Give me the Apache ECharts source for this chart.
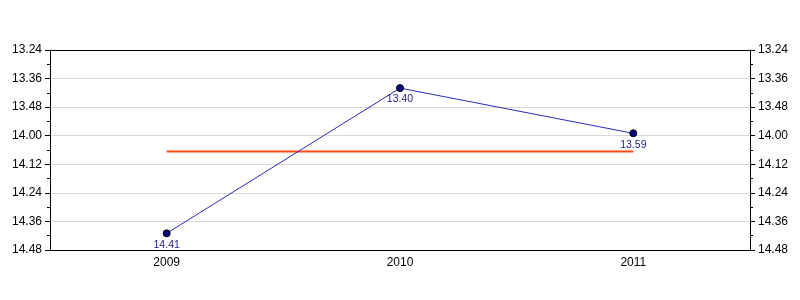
<!DOCTYPE html>
<html><head><meta charset="utf-8">
<script src="https://cdn.jsdelivr.net/npm/echarts@6/dist/echarts.min.js"></script>
<style>html,body{margin:0;padding:0;background:#fff}#c{width:800px;height:300px}</style>
</head><body><div id="c"></div>
<script>
var categories = ['2009', '2010', '2011'];
var timeLabels = ['14.41', '13.40', '13.59'];   // minutes.seconds
var yMinLabel = '13.24', yMaxLabel = '14.48', yStepSeconds = 12;

function toSec(s){ var p = s.split('.'); return parseInt(p[0],10)*60 + parseInt(p[1],10); }
function fmt(v){ v = Math.round(v); var m = Math.floor(v/60), s = v%60; return m + '.' + (s<10?'0':'') + s; }

var values = timeLabels.map(toSec);
var avg = values.reduce(function(a,b){return a+b;},0)/values.length;
var avgData = categories.map(function(){ return avg; });

var font = 'Liberation Sans, Arial, sans-serif';
function yAx(pos, grid){
  return {
    type:'value', position:pos, inverse:true,
    min: toSec(yMinLabel), max: toSec(yMaxLabel), interval: yStepSeconds,
    axisLine:{show:true, lineStyle:{color:'#000', width:1}},
    axisTick:{show:true, length:5, lineStyle:{color:'#000'}},
    minorTick:{show:true, splitNumber:2, length:3, lineStyle:{color:'#000'}},
    splitLine:{show:grid, lineStyle:{color:'#d9d9d9', width:1}},
    axisLabel:{color:'#000', fontFamily:font, fontSize:12, margin:8, formatter:fmt}
  };
}
var chart = echarts.init(document.getElementById('c'));
chart.setOption({
  animation:false,
  grid:{left:50, right:50, top:50, bottom:50, containLabel:false},
  xAxis:[{
    type:'category', data:categories, boundaryGap:true, position:'bottom',
    axisLine:{lineStyle:{color:'#000'}},
    axisTick:{alignWithLabel:true, length:5, lineStyle:{color:'#000'}},
    axisLabel:{color:'#000', fontFamily:font, fontSize:12, margin:7},
    splitLine:{show:false}
  },{
    type:'category', data:categories, position:'top',
    axisLine:{lineStyle:{color:'#000'}}, axisTick:{show:false}, axisLabel:{show:false}
  }],
  yAxis:[yAx('left', true), yAx('right', false)],
  series:[{
    type:'line', data:avgData, showSymbol:false, symbol:'none',
    lineStyle:{color:'#ff4a12', width:2}, z:2, silent:true
  },{
    type:'line', data:values, symbol:'circle', symbolSize:7,
    itemStyle:{color:'#000080', borderColor:'#000', borderWidth:1},
    lineStyle:{color:'#2a2ab8', width:1}, z:3,
    label:{show:true, position:'bottom', distance:2, color:'#1c1c90', fontFamily:font, fontSize:10.5, formatter:function(p){return fmt(p.value);}}
  }]
});
</script></body></html>
